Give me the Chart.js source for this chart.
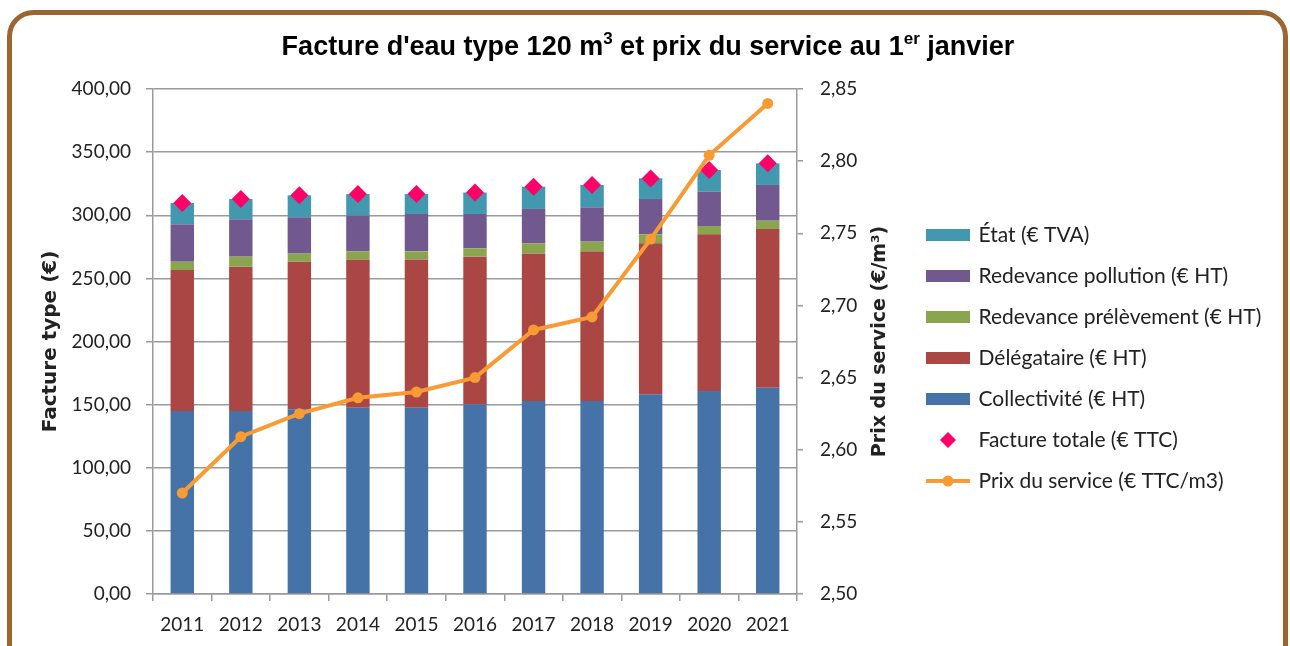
<!DOCTYPE html>
<html lang="fr">
<head>
<meta charset="utf-8">
<title>Facture d'eau type 120 m3</title>
<script src="https://cdn.jsdelivr.net/npm/chart.js@4.4.1/dist/chart.umd.min.js"></script>
<style>
  html, body { margin: 0; padding: 0; background: #fff; }
  #chart { display: block; }
</style>
</head>
<body>
<canvas id="chart" width="1290" height="646"></canvas>
<script>
// values (€ for a 120 m3 bill, price in €/m3)
const years = ['2011', '2012', '2013', '2014', '2015', '2016', '2017', '2018', '2019', '2020', '2021'];
const collectivite = [145.0, 145.0, 146.3, 147.6, 147.6, 150.2, 152.9, 152.9, 158.2, 160.8, 163.4];
const delegataire = [111.6, 114.3, 116.9, 117.4, 117.4, 117.0, 116.9, 118.3, 119.6, 124.1, 125.7];
const prelevement = [6.6, 7.9, 6.6, 6.4, 6.4, 6.6, 8.0, 7.9, 7.1, 6.6, 6.6];
const pollution = [29.6, 29.6, 28.6, 28.3, 29.6, 27.2, 27.2, 27.2, 28.0, 27.2, 28.3];
const etat = [16.9, 16.1, 17.4, 17.1, 15.8, 17.0, 17.6, 17.7, 16.3, 17.1, 17.1];
const factureTotale = [309.7, 312.9, 315.8, 316.8, 316.8, 318.0, 322.6, 324.0, 329.2, 335.8, 341.1];
const prixService = [2.570, 2.609, 2.625, 2.636, 2.640, 2.650, 2.683, 2.692, 2.746, 2.804, 2.840];

const leftTicks = { min: 0, max: 400, step: 50 };
const rightTicks = { min: 2.5, max: 2.85, step: 0.05 };

const colors = {
  etat: '#4198AF',
  pollution: '#71588F',
  prelevement: '#89A54E',
  delegataire: '#AA4643',
  collectivite: '#4572A7',
  total: '#FF0066',
  prix: '#F99B35'
};

const textColor = '#222';
const gridColor = '#9a9a9a';
Chart.defaults.font.family = 'Lato, "Open Sans", sans-serif';
Chart.defaults.color = textColor;

const frNumber = (v, d) => Number(v).toFixed(d).replace('.', ',');

// legend icons
function boxIcon(color) {
  const c = document.createElement('canvas');
  c.width = 44; c.height = 12;
  const g = c.getContext('2d');
  g.fillStyle = color;
  g.fillRect(0, 0, 44, 12);
  return c;
}
function diamondIcon(color) {
  const c = document.createElement('canvas');
  c.width = 44; c.height = 18;
  const g = c.getContext('2d');
  g.fillStyle = color;
  g.beginPath();
  g.moveTo(22, 1); g.lineTo(30, 9); g.lineTo(22, 17); g.lineTo(14, 9);
  g.closePath();
  g.fill();
  return c;
}
function lineIcon(color) {
  const c = document.createElement('canvas');
  c.width = 44; c.height = 14;
  const g = c.getContext('2d');
  g.strokeStyle = color;
  g.lineWidth = 4;
  g.beginPath(); g.moveTo(0, 7); g.lineTo(44, 7); g.stroke();
  g.fillStyle = color;
  g.beginPath(); g.arc(22, 7, 5.5, 0, Math.PI * 2); g.fill();
  return c;
}

const datasets = [
  { label: 'Collectivité (€ HT)', data: collectivite, backgroundColor: colors.collectivite, stack: 'facture', order: 2, icon: boxIcon(colors.collectivite) },
  { label: 'Délégataire (€ HT)', data: delegataire, backgroundColor: colors.delegataire, stack: 'facture', order: 2, icon: boxIcon(colors.delegataire) },
  { label: 'Redevance prélèvement (€ HT)', data: prelevement, backgroundColor: colors.prelevement, stack: 'facture', order: 2, icon: boxIcon(colors.prelevement) },
  { label: 'Redevance pollution (€ HT)', data: pollution, backgroundColor: colors.pollution, stack: 'facture', order: 2, icon: boxIcon(colors.pollution) },
  { label: 'État (€ TVA)', data: etat, backgroundColor: colors.etat, stack: 'facture', order: 2, icon: boxIcon(colors.etat) },
  {
    type: 'line', label: 'Facture totale (€ TTC)', data: factureTotale, stack: 'total', order: 1,
    showLine: false, pointStyle: 'rectRot', pointRadius: 9, pointHoverRadius: 9,
    backgroundColor: colors.total, borderColor: colors.total, pointBorderWidth: 0,
    icon: diamondIcon(colors.total)
  },
  {
    type: 'line', label: 'Prix du service (€ TTC/m3)', data: prixService, yAxisID: 'y2', order: 0,
    borderColor: colors.prix, backgroundColor: colors.prix, borderWidth: 4,
    pointRadius: 5.5, pointHoverRadius: 5.5, pointBorderWidth: 0, tension: 0,
    icon: lineIcon(colors.prix)
  }
];
const legendOrder = [4, 3, 2, 1, 0, 5, 6];

// title, right axis title and the frame
const decorations = {
  id: 'decorations',
  afterLayout(chart) {
    // legend sits a bit higher than the centred position, and gets room for its longest label
    const lg = chart.legend;
    lg.top -= 9.5;
    lg.bottom -= 9.5;
    lg.right = chart.width;
    lg.width = lg.right - lg.left;
  },
  afterDraw(chart) {
    const ctx = chart.ctx;
    ctx.save();

    // title with superscripts
    const parts = [
      ["Facture d'eau type 120 m", false],
      ['3', true],
      [' et prix du service au 1', false],
      ['er', true],
      [' janvier', false]
    ];
    const big = 'bold 27px "Liberation Sans", Arial, sans-serif';
    const small = 'bold 17px "Liberation Sans", Arial, sans-serif';
    let total = 0;
    parts.forEach(([t, sup]) => { ctx.font = sup ? small : big; total += ctx.measureText(t).width; });
    let x = 648 - total / 2;
    ctx.fillStyle = '#000';
    ctx.textBaseline = 'alphabetic';
    ctx.textAlign = 'left';
    parts.forEach(([t, sup]) => {
      ctx.font = sup ? small : big;
      ctx.fillText(t, x, sup ? 44 : 55);
      x += ctx.measureText(t).width;
    });

    // right axis title, read from bottom to top
    const area = chart.chartArea;
    ctx.translate(880, (area.top + area.bottom) / 2);
    ctx.rotate(-Math.PI / 2);
    ctx.font = 'bold 19px "DejaVu Sans", Verdana, sans-serif';
    ctx.textAlign = 'center';
    ctx.textBaseline = 'middle';
    ctx.fillStyle = textColor;
    ctx.fillText('Prix du service (€/m³)', 0, 0);
    ctx.restore();

    // rounded brown frame
    ctx.save();
    ctx.strokeStyle = '#9C6631';
    ctx.lineWidth = 5;
    ctx.beginPath();
    ctx.roundRect(9.5, 12.5, 1276, 720, 24);
    ctx.stroke();
    ctx.restore();
  }
};

new Chart(document.getElementById('chart'), {
  type: 'bar',
  data: { labels: years, datasets },
  options: {
    responsive: false,
    animation: false,
    layout: { padding: { top: 89, bottom: 0, left: 20, right: 42 } },
    datasets: {
      bar: { barPercentage: 0.4, categoryPercentage: 1.0, borderWidth: 0 }
    },
    plugins: {
      title: { display: false },
      tooltip: { enabled: false },
      legend: {
        position: 'right',
        align: 'center',
        maxWidth: 340,
        labels: {
          usePointStyle: true,
          pointStyleWidth: 40,
          padding: 20,
          font: { size: 21 },
          color: textColor,
          generateLabels: chart => legendOrder.map(i => {
            const ds = chart.data.datasets[i];
            return {
              text: ds.label,
              pointStyle: ds.icon,
              fillStyle: 'rgba(0,0,0,0)',
              strokeStyle: 'rgba(0,0,0,0)',
              lineWidth: 0,
              hidden: !chart.isDatasetVisible(i),
              datasetIndex: i,
              fontColor: textColor
            };
          })
        }
      }
    },
    scales: {
      x: {
        stacked: true,
        offset: true,
        grid: { offset: true, drawOnChartArea: false, tickLength: 7, color: gridColor, lineWidth: 1.5 },
        border: { color: gridColor, width: 1.5 },
        ticks: { font: { size: 19 }, padding: 12, color: textColor },
        afterFit: s => { s.height = 52; }
      },
      y: {
        stacked: true,
        position: 'left',
        min: leftTicks.min,
        max: leftTicks.max,
        ticks: {
          stepSize: leftTicks.step,
          font: { size: 19 },
          padding: 15,
          color: textColor,
          callback: v => frNumber(v, 2)
        },
        grid: { color: gridColor, lineWidth: 1.5, tickLength: 7 },
        border: { color: gridColor, width: 1.5 },
        title: {
          display: true,
          text: 'Facture type (€)',
          font: { family: '"DejaVu Sans", Verdana, sans-serif', size: 20, weight: 'bold' },
          color: textColor,
          padding: { top: 19, bottom: 0 }
        },
        afterFit: s => { s.width = 133; }
      },
      y2: {
        position: 'right',
        min: rightTicks.min,
        max: rightTicks.max,
        ticks: {
          stepSize: rightTicks.step,
          font: { size: 19 },
          padding: 17,
          color: textColor,
          callback: v => frNumber(v, 2)
        },
        grid: { drawOnChartArea: false, color: gridColor, lineWidth: 1.5, tickLength: 6 },
        border: { color: gridColor, width: 1.5 },
        afterFit: s => { s.width = 111; }
      }
    }
  },
  plugins: [decorations]
});
</script>
</body>
</html>
